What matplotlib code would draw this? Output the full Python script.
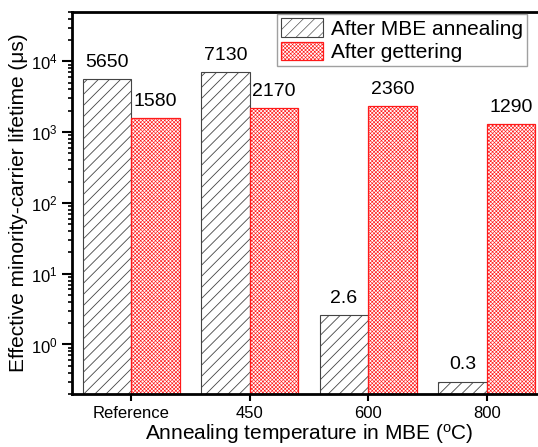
import numpy as np
import matplotlib
matplotlib.use('Agg')
from matplotlib import pyplot as plt
from matplotlib.ticker import LogLocator, NullFormatter

plt.rcParams['font.family'] = ['Liberation Sans', 'DejaVu Sans']
plt.rcParams['mathtext.fontset'] = 'custom'
plt.rcParams['mathtext.rm'] = 'Liberation Sans'
plt.rcParams['mathtext.it'] = 'Liberation Sans:italic'

categories = ['Reference', '450', '600', '800']
after_mbe = [5650, 7130, 2.6, 0.3]
after_gettering = [1580, 2170, 2360, 1290]
mbe_labels = ['5650', '7130', '2.6', '0.3']
gettering_labels = ['1580', '2170', '2360', '1290']

fig = plt.figure(figsize=(5.38, 4.47), dpi=100)
ax = fig.add_axes([0.134, 0.1186, 0.881, 0.855])

x = np.arange(len(categories))
w = 0.41

plt.rcParams['hatch.linewidth'] = 0.6
b1 = ax.bar(x - w / 2, after_mbe, w, color='white', edgecolor='#444444',
            hatch='///', linewidth=0.8, label='After MBE annealing')
plt.rcParams['hatch.linewidth'] = 0.45
b2 = ax.bar(x + w / 2, after_gettering, w, color='white', edgecolor='#ff1a1a',
            hatch='xxxxxxxxx', linewidth=0.9, label='After gettering')

for bar, txt in zip(b1, mbe_labels):
    ax.text(bar.get_x() + bar.get_width() / 2, bar.get_height() * 1.3, txt,
            ha='center', va='bottom', fontsize=14)
for bar, txt in zip(b2, gettering_labels):
    ax.text(bar.get_x() + bar.get_width() / 2, bar.get_height() * 1.3, txt,
            ha='center', va='bottom', fontsize=14)

ax.set_yscale('log')
ax.set_ylim(0.2, 5e4)
ax.set_xlim(-0.5, 3.5)
ax.yaxis.set_major_locator(LogLocator(base=10, subs=(1.0,), numticks=10))
ax.yaxis.set_minor_locator(LogLocator(base=10, subs=np.arange(2, 10), numticks=10))
ax.yaxis.set_minor_formatter(NullFormatter())
ax.set_yticks([1, 10, 100, 1000, 10000])

ax.set_xticks(x)
ax.set_xticklabels(categories)
ax.tick_params(axis='both', which='major', direction='out', length=5, width=1.5, labelsize=12)
ax.tick_params(axis='y', which='minor', direction='out', length=3, width=1.2)
ax.tick_params(axis='y', which='major', length=7)

for s in ['left', 'bottom', 'top']:
    ax.spines[s].set_linewidth(2)
ax.spines['right'].set_visible(False)

ax.set_xlabel('Annealing temperature in MBE ($\\mathregular{^{o}}$C)', fontsize=15, labelpad=1)
ax.set_ylabel('Effective minority-carrier lifetime (\u03bcs)', fontsize=15, labelpad=2)

ax.legend(loc='upper right', bbox_to_anchor=(0.965, 1.0), fontsize=15, frameon=True,
          fancybox=False, edgecolor='#888888', handlelength=2.0, handleheight=1.0,
          borderpad=0.2, labelspacing=0.15, handletextpad=0.4, borderaxespad=0.1)

fig.savefig('out.png', dpi=100)
